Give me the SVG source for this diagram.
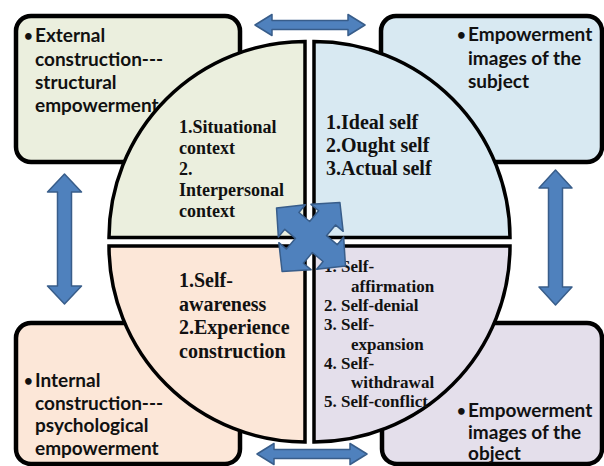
<svg xmlns="http://www.w3.org/2000/svg" width="604" height="466" viewBox="0 0 604 466">
  <defs>
    <style>
      .box { stroke: #000; stroke-width: 4.5; }
      .quad { stroke: #000; stroke-width: 3.5; stroke-linejoin: miter; }
      .olive { fill: #EBEFDE; }
      .aqua { fill: #D8E9F2; }
      .peach { fill: #FCE7D8; }
      .lilac { fill: #E4DFEB; }
      .sans { font-family: "Lato", "Liberation Sans", sans-serif; font-weight: 700; font-size: 19px; fill: #111; }
      .dot { font-size: 15px; }
      .arrow { fill: #4F81BD; stroke: #385D8A; stroke-width: 1.5; stroke-linejoin: round; }
    </style>
  </defs>
  <rect width="604" height="466" fill="#fff"/>

  <!-- corner boxes -->
  <g id="external-construction">
    <rect class="box olive" x="16" y="16" width="224" height="146" rx="15"/>
    <text class="sans"><tspan class="dot" x="24" y="41">•</tspan><tspan x="35" y="42">External</tspan><tspan x="35" y="65.5">construction---</tspan><tspan x="35" y="88.5">structural</tspan><tspan x="35" y="112">empowerment</tspan></text>
  </g>
  <g id="subject-images">
    <rect class="box aqua" x="381" y="16" width="221" height="146" rx="15"/>
    <text class="sans"><tspan class="dot" x="457" y="40">•</tspan><tspan x="468" y="41">Empowerment</tspan><tspan x="468" y="64.5">images of the</tspan><tspan x="468" y="88">subject</tspan></text>
  </g>
  <g id="internal-construction">
    <rect class="box peach" x="16" y="323" width="224" height="141" rx="15"/>
    <text class="sans"><tspan class="dot" x="24" y="385.5">•</tspan><tspan x="35" y="386.5">Internal</tspan><tspan x="35" y="409.5">construction---</tspan><tspan x="35" y="432">psychological</tspan><tspan x="35" y="455">empowerment</tspan></text>
  </g>
  <g id="object-images">
    <rect class="box lilac" x="382" y="323" width="220" height="141" rx="15"/>
    <text class="sans"><tspan class="dot" x="457" y="416">•</tspan><tspan x="468" y="417">Empowerment</tspan><tspan x="468" y="439">images of the</tspan><tspan x="468" y="460">object</tspan></text>
  </g>

  <!-- central circle split into four quadrants -->
  <g id="context">
    <path class="quad olive" d="M305,237.5 L109,237.5 A196,196 0 0 1 305,41.5 Z"/>
    <text font-family="'Liberation Serif', 'DejaVu Serif', serif" font-weight="700" fill="#111" font-size="18"><tspan x="179" y="133">1.Situational</tspan><tspan x="179" y="154">context</tspan><tspan x="179" y="175">2.</tspan><tspan x="179" y="196">Interpersonal</tspan><tspan x="179" y="217">context</tspan></text>
  </g>
  <g id="selves">
    <path class="quad aqua" d="M314,237.5 L314,41.5 A196,196 0 0 1 510,237.5 Z"/>
    <text font-family="'Liberation Serif', 'DejaVu Serif', serif" font-weight="700" fill="#111" font-size="20"><tspan x="326" y="129">1.Ideal self</tspan><tspan x="326" y="152">2.Ought self</tspan><tspan x="326" y="175">3.Actual self</tspan></text>
  </g>
  <g id="awareness">
    <path class="quad peach" d="M305,246 L305,442 A196,196 0 0 1 109,246 Z"/>
    <text font-family="'Liberation Serif', 'DejaVu Serif', serif" font-weight="700" fill="#111" font-size="20"><tspan x="179" y="287">1.Self-</tspan><tspan x="179" y="310.5">awareness</tspan><tspan x="179" y="334">2.Experience</tspan><tspan x="179" y="357.5">construction</tspan></text>
  </g>
  <g id="self-states">
    <path class="quad lilac" d="M314,246 L510,246 A196,196 0 0 1 314,442 Z"/>
    <text font-family="'Liberation Serif', 'DejaVu Serif', serif" font-weight="700" fill="#111" font-size="17"><tspan x="324" y="272">1. Self-</tspan><tspan x="351" y="291.5">affirmation</tspan><tspan x="324" y="311">2. Self-denial</tspan><tspan x="324" y="330">3. Self-</tspan><tspan x="351" y="349.5">expansion</tspan><tspan x="324" y="369">4. Self-</tspan><tspan x="351" y="388">withdrawal</tspan><tspan x="324" y="407">5. Self-conflict</tspan></text>
  </g>

  <!-- double-headed connectors between the boxes, plus the central quad arrow -->
  <g id="connectors">
    <polygon class="arrow" points="255,25 272,14.5 272,20.5 348,20.5 348,14.5 365,25 348,35.5 348,29.5 272,29.5 272,35.5"/>
    <polygon class="arrow" points="257,454 274,443.5 274,449.5 350,449.5 350,443.5 367,454 350,464.5 350,458.5 274,458.5 274,464.5"/>
    <polygon class="arrow" points="64.5,174 81.5,192 71.5,192 71.5,286 81.5,286 64.5,304 47.5,286 57.5,286 57.5,192 47.5,192"/>
    <polygon class="arrow" points="555.5,170 572,188 562.5,188 562.5,287 572,287 555.5,305 539,287 548.5,287 548.5,188 539,188"/>
    <polygon class="arrow" transform="translate(311,237) rotate(40)" points="45,0 25,21 25,11 11,11 11,25 21,25 0,45 -21,25 -11,25 -11,11 -25,11 -25,21 -45,0 -25,-21 -25,-11 -11,-11 -11,-25 -21,-25 0,-45 21,-25 11,-25 11,-11 25,-11 25,-21"/>
  </g>
</svg>
